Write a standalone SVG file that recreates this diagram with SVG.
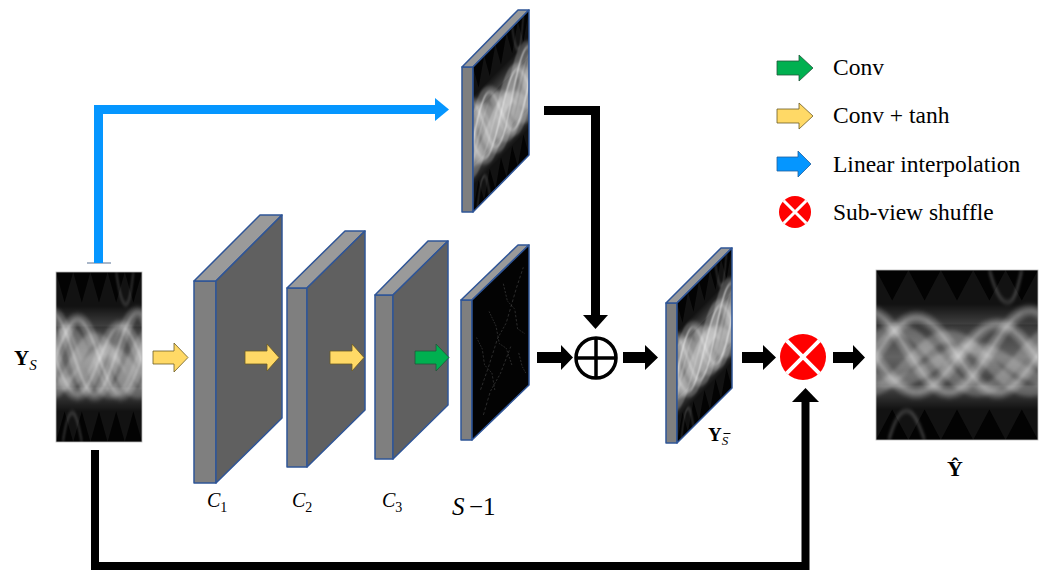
<svg xmlns="http://www.w3.org/2000/svg" xmlns:xlink="http://www.w3.org/1999/xlink" width="1045" height="571" viewBox="0 0 1045 571">
  <style>
    .lbl{font-family:"Liberation Serif","Times New Roman",serif;fill:#000}
    .legend{font-size:23.5px}
    .edge{stroke:#2F5597;stroke-width:1.5;stroke-linejoin:round}
    .front{fill:#7f7f7f}
    .top{fill:#9a9a9a}
    .side{fill:#606060}
    .blk{fill:#000}
    .tanh{fill:#FFD966;stroke:#6b5a25;stroke-width:0.8}
    .conv{fill:#00B050;stroke:#22553a;stroke-width:0.8}
    .interp{fill:#0596FF}
    .wglow{fill:none;stroke:#fff;stroke-opacity:.22;stroke-width:12}
    .wline{fill:none;stroke:#fff;stroke-opacity:.5;stroke-width:1.6}
  </style>
  <defs>
    <clipPath id="unitClip"><rect width="100" height="100"/></clipPath>
    <filter id="soft" x="-5%" y="-20%" width="110%" height="140%">
      <feGaussianBlur stdDeviation="1.1"/>
    </filter>
    <linearGradient id="bandGrad" x1="0" y1="0" x2="0" y2="1">
      <stop offset="0" stop-color="#fff" stop-opacity="0"/>
      <stop offset="0.22" stop-color="#fff" stop-opacity="0.22"/>
      <stop offset="0.5" stop-color="#fff" stop-opacity="0.38"/>
      <stop offset="0.78" stop-color="#fff" stop-opacity="0.22"/>
      <stop offset="1" stop-color="#fff" stop-opacity="0"/>
    </linearGradient>
    <!-- one sine period per 100 units, unit amplitude, spanning -100..200 -->
    <path id="wave" vector-effect="non-scaling-stroke" d="M-100,0 C-91.85,-0.513 -84.05,-1 -75,-1 S-58.15,-0.513 -50,0 S-34.05,1 -25,1 S-8.15,0.513 0,0 S15.95,-1 25,-1 S41.85,-0.513 50,0 S65.95,1 75,1 S91.85,0.513 100,0 S115.95,-1 125,-1 S141.85,-0.513 150,0 S165.95,1 175,1 S191.85,0.513 200,0"/>
    <!-- sinogram drawn in a 100x100 box -->
    <g id="sino">
      <g clip-path="url(#unitClip)">
        <rect width="100" height="100" fill="#030303"/>
        <path d="M0,0 L10,18 L20,0 L30,18 L40,0 L50,18 L60,0 L70,18 L80,0 L90,18 L100,0 L100,32 L0,32 Z" fill="#121212"/>
        <path d="M0,100 L10,82 L20,100 L30,82 L40,100 L50,82 L60,100 L70,82 L80,100 L90,82 L100,100 L100,68 L0,68 Z" fill="#121212"/>
        <rect y="20" width="100" height="62" fill="url(#bandGrad)"/>
        <g filter="url(#soft)">
          <use xlink:href="#wave" class="wglow" transform="translate(0,50) scale(1,22)"/>
          <use xlink:href="#wave" class="wglow" transform="translate(50,52) scale(1,20)"/>
          <use xlink:href="#wave" class="wglow" transform="translate(20,55) scale(1,16)"/>
          <use xlink:href="#wave" class="wglow" transform="translate(70,48) scale(1,24)"/>
          <use xlink:href="#wave" class="wglow" transform="translate(35,56) scale(1,10)"/>
          <use xlink:href="#wave" class="wglow" transform="translate(88,53) scale(1,18)"/>
          <use xlink:href="#wave" class="wline" transform="translate(0,50) scale(1,22)"/>
          <use xlink:href="#wave" class="wline" transform="translate(50,52) scale(1,20)"/>
          <use xlink:href="#wave" class="wline" transform="translate(70,48) scale(1,24)"/>
          <path d="M70,0 C74,14 78,20 82,19 C86,18 88,8 90,0" fill="none" stroke="#ccc" stroke-opacity=".5" stroke-width="1"/>
          <path d="M8,100 C12,86 16,82 20,83 C24,84 27,92 30,100" fill="none" stroke="#ccc" stroke-opacity=".5" stroke-width="1"/>
        </g>
      </g>
    </g>
    <!-- residual map: black with faint speckle -->
    <g id="noise">
      <rect width="100" height="100" fill="#030303"/>
      <g fill="none" stroke="#9a9a9a" stroke-opacity=".4" stroke-width="0.6" stroke-dasharray="2 1.5">
        <path d="M8,30 L18,42 L22,55 L35,66 L40,80"/>
        <path d="M30,20 L42,35 L48,50 L60,58 L70,74"/>
        <path d="M55,10 L62,25 L75,36 L80,52 L92,60"/>
        <path d="M15,70 L28,60 L45,45 L60,40 L78,22 L90,12"/>
        <path d="M20,90 L32,78 L50,72 L68,60"/>
        <path d="M82,70 L88,82 L95,90"/>
      </g>
    </g>
  </defs>

  <rect width="1045" height="571" fill="#fff"/>

  <!-- input sub-views -->
  <g id="input">
    <use xlink:href="#sino" transform="translate(56,272) scale(0.86,1.70)"/>
    <rect x="56" y="272" width="86" height="170" fill="none" stroke="#bbb" stroke-width="0.8"/>
    <text class="lbl" x="14" y="365" font-size="21" font-weight="bold">Y<tspan font-size="15" font-style="italic" font-weight="normal" dy="5">S</tspan></text>
  </g>

  <!-- interpolated views -->
  <g id="interp-out">
    <rect class="front edge" x="462" y="67" width="11" height="145"/>
    <polygon class="top edge" points="462,67 518,10 529,10 473,67"/>
    <use xlink:href="#sino" transform="matrix(0.56,-0.57,0,1.45,473,67)"/>
    <polygon class="edge" fill="none" points="473,67 529,10 529,155 473,212"/>
  </g>

  <!-- convolution layers -->
  <g id="layer-c1">
    <rect class="front edge" x="194" y="281" width="22" height="202"/>
    <polygon class="top edge" points="194,281 260,215 282,215 216,281"/>
    <polygon class="side edge" points="216,281 282,215 282,418 216,483"/>
    <text class="lbl" x="207" y="507" font-size="20" font-style="italic">C<tspan font-style="normal" font-size="14" dy="5">1</tspan></text>
  </g>
  <g id="layer-c2">
    <rect class="front edge" x="287" y="288" width="20" height="179"/>
    <polygon class="top edge" points="287,288 345,231 365,231 307,288"/>
    <polygon class="side edge" points="307,288 365,231 365,410 307,467"/>
    <text class="lbl" x="292" y="507" font-size="20" font-style="italic">C<tspan font-style="normal" font-size="14" dy="5">2</tspan></text>
  </g>
  <g id="layer-c3">
    <rect class="front edge" x="375" y="295" width="18" height="164"/>
    <polygon class="top edge" points="375,295 428,241 448,241 393,295"/>
    <polygon class="side edge" points="393,295 448,241 448,405 393,459"/>
    <text class="lbl" x="382" y="507" font-size="20" font-style="italic">C<tspan font-style="normal" font-size="14" dy="5">3</tspan></text>
  </g>

  <!-- residual output, S-1 channels -->
  <g id="residual">
    <rect class="front edge" x="461" y="300" width="11" height="140"/>
    <polygon class="top edge" points="461,300 518,245 529,245 472,300"/>
    <use xlink:href="#noise" transform="matrix(0.57,-0.55,0,1.40,472,300)"/>
    <polygon class="edge" fill="none" points="472,300 529,245 529,385 472,440"/>
    <text class="lbl" x="452" y="515" font-size="25"><tspan font-style="italic">S</tspan><tspan x="469">−1</tspan></text>
  </g>

  <!-- element-wise sum -->
  <g id="sum">
    <circle cx="596" cy="358" r="20" fill="#fff" stroke="#000" stroke-width="3.5"/>
    <path d="M576,358 H616 M596,338 V378" stroke="#000" stroke-width="3.5"/>
  </g>

  <!-- refined sub-views -->
  <g id="refined">
    <rect class="front edge" x="666" y="303" width="11" height="140"/>
    <polygon class="top edge" points="666,303 721,248 732,248 677,303"/>
    <use xlink:href="#sino" transform="matrix(0.55,-0.55,0,1.40,677,303)"/>
    <polygon class="edge" fill="none" points="677,303 732,248 732,388 677,443"/>
    <text class="lbl" x="708" y="441" font-size="19" font-weight="bold">Y<tspan font-size="13" font-style="italic" font-weight="normal" dy="4">S</tspan></text>
    <line x1="723.5" y1="433.5" x2="730.5" y2="433.5" stroke="#000" stroke-width="1"/>
  </g>

  <!-- sub-view shuffle -->
  <g id="shuffle">
    <circle cx="803" cy="357" r="23" fill="#FF0000"/>
    <path d="M786.7,340.7 L819.3,373.3 M819.3,340.7 L786.7,373.3" stroke="#fff" stroke-width="4"/>
  </g>

  <!-- full output sinogram -->
  <g id="output">
    <use xlink:href="#sino" transform="translate(876,270) scale(1.62,1.70)"/>
    <rect x="876" y="270" width="162" height="170" fill="none" stroke="#bbb" stroke-width="0.8"/>
    <text class="lbl" x="955" y="476" font-size="22" font-weight="bold" text-anchor="middle">Ŷ</text>
  </g>

  <!-- connectors -->
  <g id="connectors">
    <line x1="87" y1="263" x2="111" y2="263" stroke="#aab7c9" stroke-width="2"/>
    <path d="M98.5,263 V109.5 H437" fill="none" stroke="#0596FF" stroke-width="9"/>
    <polygon class="interp" points="435,98 449,109.5 435,121"/>

    <path d="M544,110.5 H595.5 V316" fill="none" stroke="#000" stroke-width="9"/>
    <polygon class="blk" points="583,315 608,315 595.5,329"/>

    <path d="M95,450 V566 H805.5 V401" fill="none" stroke="#000" stroke-width="8"/>
    <polygon class="blk" points="792,402 819,402 805.5,388"/>

    <polygon class="tanh" points="153,351 174,351 174,343 188,357.5 174,372 174,364 153,364"/>
    <polygon class="tanh" points="245,351 267,351 267,344 279,357.5 267,371 267,364 245,364"/>
    <polygon class="tanh" points="330,351 352,351 352,344 364,357.5 352,371 352,364 330,364"/>
    <polygon class="conv" points="415,351 436,351 436,344 449,357.5 436,371 436,364 415,364"/>

    <polygon class="blk" points="537,352 561,352 561,345 573,357.5 561,370 561,363 537,363"/>
    <polygon class="blk" points="623,352 645,352 645,345 658,357.5 645,370 645,363 623,363"/>
    <polygon class="blk" points="742,352 763,352 763,345 776,357.5 763,370 763,363 742,363"/>
    <polygon class="blk" points="833,352 853,352 853,345 865,357.5 853,370 853,363 833,363"/>
  </g>

  <!-- legend -->
  <g id="legend">
    <polygon class="conv" points="777,61 799,61 799,55 813,68 799,81 799,75 777,75"/>
    <text class="lbl legend" x="833" y="75">Conv</text>
    <polygon class="tanh" points="777,109 799,109 799,103 813,116 799,129 799,123 777,123"/>
    <text class="lbl legend" x="833" y="123">Conv + tanh</text>
    <polygon class="interp" stroke="#1f5f9f" stroke-width="0.8" points="777,157 798,157 798,151 811,164 798,177 798,171 777,171"/>
    <text class="lbl legend" x="833" y="172">Linear interpolation</text>
    <circle cx="795" cy="212" r="16" fill="#FF0000"/>
    <path d="M783.7,200.7 L806.3,223.3 M806.3,200.7 L783.7,223.3" stroke="#fff" stroke-width="3"/>
    <text class="lbl legend" x="833" y="220">Sub-view shuffle</text>
  </g>
</svg>
